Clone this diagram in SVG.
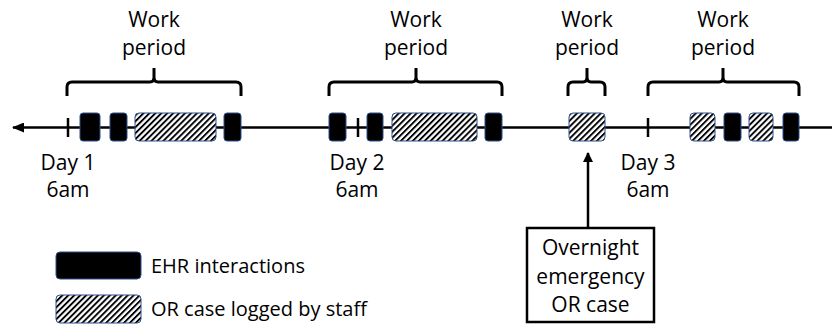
<svg xmlns="http://www.w3.org/2000/svg" width="832" height="326" viewBox="0 0 832 326">
  <defs>
    <pattern id="hatch" patternUnits="userSpaceOnUse" width="4.2" height="4.2" patternTransform="rotate(45)">
      <rect width="4.2" height="4.2" fill="#ffffff"/>
      <rect x="0" y="0" width="1.9" height="4.2" fill="#000000"/>
    </pattern>
    <marker id="arrow" viewBox="0 0 10 10" refX="9" refY="5" markerWidth="10" markerHeight="10" markerUnits="userSpaceOnUse" orient="auto">
      <path d="M0,0 L10,5 L0,10 Z" fill="#000"/>
    </marker>
    <marker id="arrowBig" viewBox="0 0 12 10" refX="11" refY="5" markerWidth="12" markerHeight="10" markerUnits="userSpaceOnUse" orient="auto">
      <path d="M0,0 L12,5 L0,10 Z" fill="#000"/>
    </marker>
  </defs>
  <style>
    text { font-family: "Open Sans", "Noto Sans", "Liberation Sans", sans-serif; font-size: 21px; fill: #000; }
    .mid { text-anchor: middle; }
    .legend { font-size: 20px; }
    .ehr { fill: #000; stroke: #2f4f8f; stroke-width: 1; }
    .orc { fill: url(#hatch); stroke: #2f4f8f; stroke-width: 1; }
    .brace { fill: none; stroke: #000; stroke-width: 3; }
    .tick { stroke: #000; stroke-width: 2.5; }
    .line { stroke: #000; stroke-width: 2.5; fill: none; }
  </style>

  <!-- time axis and callout arrow -->
  <g id="connectors">
    <line class="line" x1="832" y1="127.5" x2="13" y2="127.5" marker-end="url(#arrowBig)"/>
    <line class="line" x1="588" y1="228" x2="588" y2="153" marker-end="url(#arrow)"/>
  </g>

  <!-- day start ticks -->
  <g id="ticks">
    <line class="tick" x1="68" y1="118" x2="68" y2="137"/>
    <line class="tick" x1="358" y1="118" x2="358" y2="137"/>
    <line class="tick" x1="648" y1="118" x2="648" y2="137"/>
  </g>

  <!-- day 1 activity -->
  <g id="day1-events">
    <rect class="ehr" x="80" y="113" width="20" height="28" rx="3"/>
    <rect class="ehr" x="110" y="113" width="17" height="28" rx="3"/>
    <rect class="orc" x="135" y="113" width="81" height="28" rx="4"/>
    <rect class="ehr" x="224" y="113" width="17" height="28" rx="3"/>
  </g>

  <!-- day 2 activity -->
  <g id="day2-events">
    <rect class="ehr" x="329" y="113" width="17" height="28" rx="3"/>
    <rect class="ehr" x="367" y="113" width="16" height="28" rx="3"/>
    <rect class="orc" x="392" y="113" width="85" height="28" rx="4"/>
    <rect class="ehr" x="485" y="113" width="17" height="28" rx="3"/>
  </g>

  <!-- overnight case -->
  <g id="overnight-event">
    <rect class="orc" x="569" y="113" width="36" height="28" rx="4"/>
  </g>

  <!-- day 3 activity -->
  <g id="day3-events">
    <rect class="orc" x="690" y="113" width="25" height="28" rx="4"/>
    <rect class="ehr" x="724" y="113" width="17" height="28" rx="3"/>
    <rect class="orc" x="749" y="113" width="24" height="28" rx="4"/>
    <rect class="ehr" x="783" y="113" width="16" height="28" rx="3"/>
  </g>

  <!-- work period braces with labels -->
  <g id="period1">
    <path class="brace" d="M67,96 V87 Q67,82 72,82 H150 Q154,82 154,77 V68 M154,77 Q154,82 158,82 H236 Q241,82 241,87 V96"/>
    <text class="mid" x="154" y="27">Work</text>
    <text class="mid" x="154" y="55">period</text>
  </g>
  <g id="period2">
    <path class="brace" d="M329,96 V87 Q329,82 334,82 H412 Q416,82 416,77 V68 M416,77 Q416,82 420,82 H497 Q502,82 502,87 V96"/>
    <text class="mid" x="416" y="27">Work</text>
    <text class="mid" x="416" y="55">period</text>
  </g>
  <g id="period3">
    <path class="brace" d="M568,96 V87 Q568,82 573,82 H583 Q587,82 587,77 V68 M587,77 Q587,82 591,82 H600 Q605,82 605,87 V96"/>
    <text class="mid" x="587" y="27">Work</text>
    <text class="mid" x="587" y="55">period</text>
  </g>
  <g id="period4">
    <path class="brace" d="M648,96 V87 Q648,82 653,82 H719 Q723,82 723,77 V68 M723,77 Q723,82 727,82 H794 Q799,82 799,87 V96"/>
    <text class="mid" x="723" y="27">Work</text>
    <text class="mid" x="723" y="55">period</text>
  </g>

  <!-- day labels -->
  <g id="day1-label">
    <text class="mid" x="68" y="170">Day 1</text>
    <text class="mid" x="68" y="197">6am</text>
  </g>
  <g id="day2-label">
    <text class="mid" x="357" y="170">Day 2</text>
    <text class="mid" x="357" y="197">6am</text>
  </g>
  <g id="day3-label">
    <text class="mid" x="648" y="170">Day 3</text>
    <text class="mid" x="648" y="197">6am</text>
  </g>

  <!-- callout box -->
  <g id="overnight-note">
    <rect x="527" y="228" width="127" height="94" fill="#fff" stroke="#000" stroke-width="2.5"/>
    <text class="mid" x="590.5" y="255">Overnight</text>
    <text class="mid" x="590.5" y="283.5">emergency</text>
    <text class="mid" x="590.5" y="312">OR case</text>
  </g>

  <!-- legend -->
  <g id="legend-ehr">
    <rect class="ehr" x="56" y="252" width="85" height="27" rx="4"/>
    <text class="legend" x="151" y="273">EHR interactions</text>
  </g>
  <g id="legend-or">
    <rect class="orc" x="56" y="295" width="85" height="28" rx="4"/>
    <text class="legend" x="151" y="316">OR case logged by staff</text>
  </g>
</svg>
